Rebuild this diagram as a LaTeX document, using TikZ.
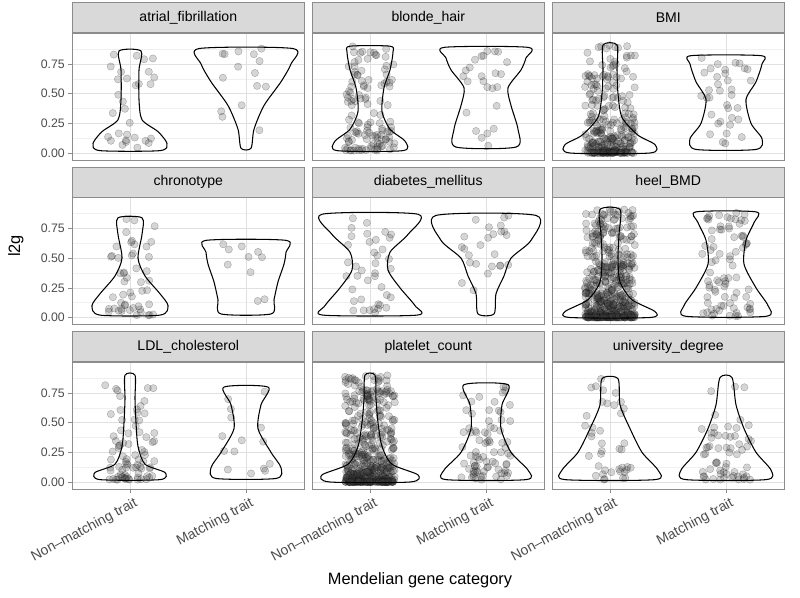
\documentclass[tikz,border=0pt]{standalone}
\usepackage{fontspec}
\setmainfont{Liberation Sans}
\tikzset{
  violin/.style={draw=black,line width=0.9pt,line join=round},
  dot/.style={fill=black!75,fill opacity=0.22,draw=black,draw opacity=0.3,line width=0.3pt},
  majg/.style={draw=black!12,line width=0.5pt},
  ming/.style={draw=black!6,line width=0.3pt},
  strip/.style={fill=black!15,draw=black!45,line width=0.5pt},
  pborder/.style={draw=black!45,line width=0.5pt},
  tick/.style={font=\fontsize{10.5}{12}\selectfont,text=black!70},
}
\newcommand\violin[3]{\gdef\rpts{}\gdef\lpts{}%
  \foreach \v/\w in {#3}{\pgfmathsetmacro\xr{#1+\w}\pgfmathsetmacro\xl{#1-\w}\pgfmathsetmacro\yy{#2-\v*118.7}%
    \xdef\rpts{\rpts(\xr,\yy)}\xdef\lpts{(\xl,\yy)\lpts}}%
  \edef\tmp{\noexpand\draw[violin] plot[smooth cycle,tension=0.45] coordinates {\rpts\lpts};}\tmp}
\newcommand\jdots[6]{\foreach \i in {1,...,#3}{\pgfmathsetmacro\px{#1+50*(rnd-0.5)}\pgfmathsetmacro\py{#2-118.7*(#4+(#5-#4)*rnd^#6)}\fill[dot](\px,\py) circle[radius=1.1mm];}}
\newcommand\panel[4]{% col, row, title, name
  \pgfmathsetmacro\L{72+240*#1}\pgfmathsetmacro\R{\L+232}
  \pgfmathsetmacro\T{33+164.5*#2}\pgfmathsetmacro\Z{\T+120}
  \pgfmathsetmacro\cA{\L+58}\pgfmathsetmacro\cB{\L+174}
  \fill[white] (\L,\T) rectangle (\R,\T+127);
  \foreach \k in {0.5,1.5,2.5,3.5}{\draw[ming] (\L,\Z-\k*29.675) -- (\R,\Z-\k*29.675);}
  \foreach \k in {0,1,2,3}{\draw[majg] (\L,\Z-\k*29.675) -- (\R,\Z-\k*29.675);}
  \draw[majg] (\cA,\T) -- (\cA,\T+127);
  \draw[majg] (\cB,\T) -- (\cB,\T+127);
  \draw[pborder] (\L,\T) rectangle (\R,\T+127);
  \node[strip,minimum width=232*0.3mm,minimum height=30*0.3mm,inner sep=0pt,anchor=south west,font=\fontsize{12}{14}\selectfont] (#4) at (\L,\T) {#3};
}
\begin{document}
\begin{tikzpicture}[x=0.3mm,y=-0.3mm]
\pgfmathsetseed{7}
\fill[white] (0,0) rectangle (800,598);
\useasboundingbox (0,0) rectangle (800,598);
\panel{0}{0}{atrial\_fibrillation}{p1}
\jdots{130}{153}{30}{0.02}{0.86}{1.3}\violin{130}{153}{0.02/30,0.08/37,0.18/28,0.28/12,0.45/9,0.7/9,0.86/11}
\jdots{246}{153}{15}{0.04}{0.88}{0.6}\violin{246}{153}{0.04/5,0.2/8,0.4/18,0.6/35,0.75/45,0.88/47}
\panel{1}{0}{blonde\_hair}{p2}
\jdots{370}{153}{120}{0.02}{0.9}{1.8}\violin{370}{153}{0.02/33,0.1/35,0.2/20,0.35/12,0.55/14,0.7/20,0.85/23,0.9/20}
\jdots{486}{153}{25}{0.05}{0.89}{0.9}\violin{486}{153}{0.05/30,0.2/32,0.4/25,0.55/22,0.7/35,0.8/40,0.89/42}
\panel{2}{0}{BMI}{p3}
\jdots{610}{153}{280}{0.0}{0.91}{2.5}\violin{610}{153}{0/40,0.07/45,0.15/28,0.3/12,0.5/8,0.7/7,0.91/7}
\jdots{726}{153}{35}{0.03}{0.82}{0.9}\violin{726}{153}{0.03/30,0.12/36,0.25/25,0.45/20,0.6/30,0.75/36,0.82/35}
\panel{0}{1}{chronotype}{p4}
\jdots{130}{317.5}{50}{0.02}{0.84}{2}\violin{130}{317.5}{0.02/30,0.1/38,0.2/30,0.35/15,0.5/8,0.7/12,0.84/12}
\jdots{246}{317.5}{10}{0.03}{0.65}{0.8}\violin{246}{317.5}{0.03/25,0.15/28,0.3/32,0.45/38,0.55/40,0.65/40}
\panel{1}{1}{diabetes\_mellitus}{p5}
\jdots{370}{317.5}{40}{0.02}{0.87}{1.2}\violin{370}{317.5}{0.02/47,0.1/45,0.25/30,0.4/18,0.55/20,0.7/38,0.87/48}
\jdots{486}{317.5}{25}{0.03}{0.86}{0.7}\violin{486}{317.5}{0.03/8,0.2/10,0.35/18,0.5/25,0.65/45,0.86/50}
\panel{2}{1}{heel\_BMD}{p6}
\jdots{610}{317.5}{500}{0.0}{0.91}{2.5}\violin{610}{317.5}{0/40,0.05/45,0.15/22,0.3/10,0.5/8,0.7/9,0.91/10}
\jdots{726}{317.5}{80}{0.01}{0.89}{1.3}\violin{726}{317.5}{0.01/40,0.1/42,0.25/30,0.45/18,0.65/20,0.8/28,0.89/30}
\panel{0}{2}{LDL\_cholesterol}{p7}
\jdots{130}{482}{80}{0.02}{0.9}{2.5}\violin{130}{482}{0.02/30,0.08/35,0.15/15,0.3/8,0.5/6,0.7/5,0.9/5}
\jdots{246}{482}{15}{0.03}{0.8}{1.3}\violin{246}{482}{0.03/30,0.12/35,0.25/25,0.45/12,0.65/15,0.8/22}
\panel{1}{2}{platelet\_count}{p8}
\jdots{370}{482}{500}{0.0}{0.9}{2.5}\violin{370}{482}{0/40,0.06/48,0.15/22,0.3/12,0.5/8,0.7/6,0.9/5}
\jdots{486}{482}{80}{0.02}{0.82}{1.5}\violin{486}{482}{0.02/40,0.1/42,0.25/25,0.45/15,0.65/16,0.82/22}
\panel{2}{2}{university\_degree}{p9}
\jdots{610}{482}{40}{0.02}{0.87}{1.6}\violin{610}{482}{0.02/45,0.1/48,0.25/32,0.45/20,0.65/10,0.87/8}
\jdots{726}{482}{60}{0.02}{0.88}{1.8}\violin{726}{482}{0.02/40,0.1/45,0.25/30,0.45/18,0.65/10,0.88/6}
\foreach \z in {153,317.5,482}{
  \foreach \k/\t in {0/0.00,1/0.25,2/0.50,3/0.75}{
    \draw[black!45,line width=0.5pt] (68,\z-\k*29.675) -- (72,\z-\k*29.675);
    \node[tick,anchor=east,inner sep=0pt] at (65,\z-\k*29.675) {\t};
  }}
\foreach \c in {130,246,370,486,610,726}{\draw[black!45,line width=0.5pt] (\c,489) -- (\c,493);}
\foreach \c/\t in {130/Non--matching trait,246/Matching trait,370/Non--matching trait,486/Matching trait,610/Non--matching trait,726/Matching trait}{
  \node[tick,anchor=north east,rotate=28,inner sep=1pt,font=\fontsize{12}{14}\selectfont] (xl\c) at (\c+4,495) {\t};}
\node[font=\fontsize{14}{16}\selectfont] (xt) at (420,580) {Mendelian gene category};
\node[font=\fontsize{14}{16}\selectfont,rotate=90] (yt) at (16,246) {l2g};
\end{tikzpicture}
\end{document}
